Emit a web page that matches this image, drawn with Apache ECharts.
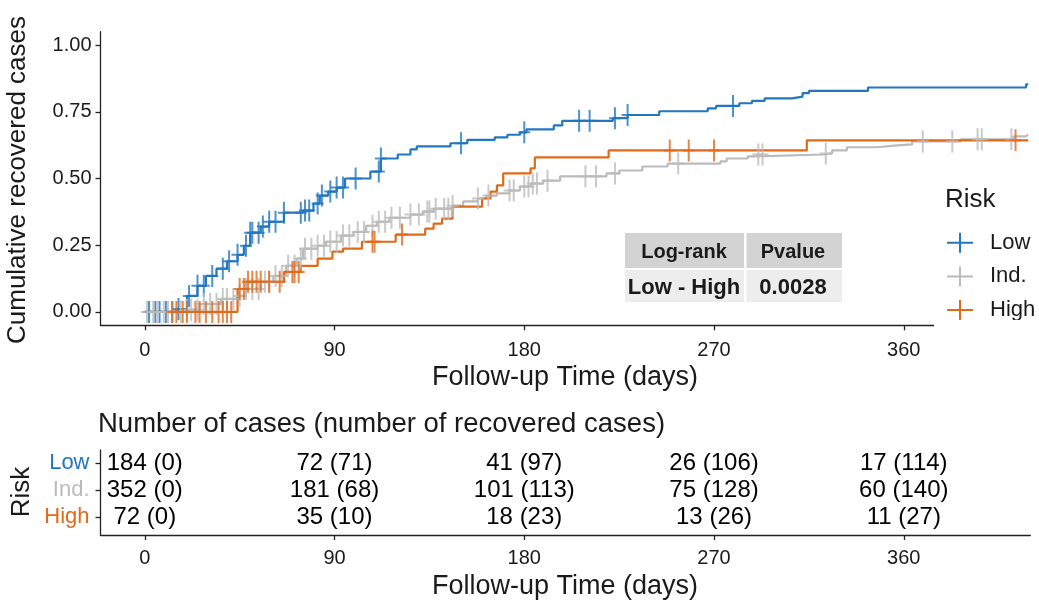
<!DOCTYPE html>
<html><head><meta charset="utf-8">
<script src="https://cdn.jsdelivr.net/npm/echarts@6/dist/echarts.min.js"></script>
<style>html,body{margin:0;padding:0;background:#fff}#c{width:1039px;height:604px}</style>
</head><body><div id="c"></div>
<script>
// ---- data ----
const xTicks = [0, 90, 180, 270, 360];
const yTicks = [0, 0.25, 0.5, 0.75, 1];
const groups = ['Low', 'Ind.', 'High'];

const lowTimes = [0, 15, 20, 25, 29, 34, 39, 44, 47, 50, 55, 59, 66, 75, 80, 83, 87, 91, 95, 107, 112, 120, 126, 129, 145, 153, 166, 172, 178, 181, 194, 198, 222, 229, 244, 267, 271, 282, 288, 294, 307, 312, 315, 343, 418, 419];
const lowValues = [0, 0.011, 0.06, 0.098, 0.135, 0.162, 0.19, 0.214, 0.248, 0.297, 0.32, 0.338, 0.372, 0.38, 0.406, 0.436, 0.451, 0.466, 0.5, 0.526, 0.575, 0.59, 0.609, 0.62, 0.632, 0.645, 0.654, 0.664, 0.673, 0.684, 0.699, 0.716, 0.726, 0.738, 0.752, 0.763, 0.772, 0.782, 0.791, 0.8, 0.807, 0.82, 0.828, 0.841, 0.853, 0.853];
const lowCensor = [2, 5, 7, 10, 13, 16, 21, 25, 28, 32, 37, 40, 44, 48, 50, 51, 54, 56, 59, 62, 66, 74, 76, 78, 82, 84, 88, 91, 94, 100, 111, 112, 150, 180, 206, 211, 223, 229, 279];

const indTimes = [0, 19, 26, 36, 44, 48, 55, 61, 67, 72, 75, 82, 86, 93, 99, 105, 110, 116, 126, 132, 137, 146, 151, 158, 162, 167, 173, 178, 183, 189, 197, 219, 225, 236, 248, 273, 276, 286, 290, 322, 326, 333, 347, 357, 364, 387, 412, 418, 419];
const indValues = [0, 0.008, 0.03, 0.049, 0.06, 0.086, 0.113, 0.135, 0.173, 0.2, 0.237, 0.248, 0.263, 0.286, 0.3, 0.323, 0.338, 0.353, 0.365, 0.376, 0.387, 0.398, 0.414, 0.425, 0.436, 0.444, 0.455, 0.47, 0.481, 0.492, 0.508, 0.519, 0.53, 0.545, 0.556, 0.564, 0.575, 0.583, 0.59, 0.594, 0.605, 0.617, 0.624, 0.628, 0.639, 0.647, 0.658, 0.665, 0.665];
const indCensor = [1, 4, 6, 9, 11, 13, 17, 20, 22, 25, 28, 31, 34, 37, 39, 42, 45, 48, 51, 54, 57, 59, 62, 65, 68, 71, 74, 76, 79, 82, 85, 88, 91, 94, 97, 101, 104, 108, 111, 114, 117, 121, 126, 130, 134, 135, 138, 142, 144, 146, 158, 163, 173, 175, 180, 182, 184, 186, 191, 209, 214, 223, 253, 291, 293, 323, 369, 383, 395, 397, 411];

const highTimes = [0, 44, 48, 66, 74, 82, 89, 94, 103, 119, 133, 137, 141, 146, 160, 164, 167, 170, 183, 185, 220, 314, 419];
const highValues = [0, 0.086, 0.113, 0.15, 0.173, 0.2, 0.226, 0.237, 0.263, 0.29, 0.312, 0.331, 0.35, 0.395, 0.425, 0.451, 0.474, 0.519, 0.538, 0.579, 0.605, 0.643, 0.643];
const highCensor = [13, 15, 18, 20, 24, 26, 29, 32, 35, 37, 39, 41, 45, 47, 49, 51, 53, 55, 59, 64, 70, 71, 73, 108, 109, 122, 249, 258, 270, 413];

const tableTimes = [0, 90, 180, 270, 360];
const lowAtRisk = [184, 72, 41, 26, 17];
const lowRecovered = [0, 71, 97, 106, 114];
const indAtRisk = [352, 181, 101, 75, 60];
const indRecovered = [0, 68, 113, 128, 140];
const highAtRisk = [72, 35, 18, 13, 11];
const highRecovered = [0, 10, 23, 26, 27];

const logRankHeader = ['Log-rank', 'Pvalue'];
const logRankRow = ['Low - High', '0.0028'];

// ---- styling ----
const FONT = "'Liberation Sans', Arial, sans-serif";
const colors = { 'Low': '#2277BF', 'Ind.': '#BBBBBB', 'High': '#E0691A' };
const TXT = '#1a1a1a';
const plusPath = 'path://M5,0H7V22H5Z M0,10H12V12H0Z';
const legendIcon = 'path://M0,9H26V11H0Z M12,0H14V20H12Z';

function stepData(times, values) { return times.map((t, i) => [t, values[i]]); }
function valueAt(times, values, t) {
  let v = values[0];
  for (let i = 0; i < times.length; i++) { if (times[i] <= t) v = values[i]; }
  return v;
}
function censorData(cens, times, values) { return cens.map(t => [t, valueAt(times, values, t)]); }

const curves = [
  { name: 'Low', times: lowTimes, values: lowValues, cens: lowCensor },
  { name: 'Ind.', times: indTimes, values: indValues, cens: indCensor },
  { name: 'High', times: highTimes, values: highValues, cens: highCensor }
];

const series = [];
curves.forEach(c => {
  series.push({
    name: c.name, type: 'line', step: 'end', xAxisIndex: 0, yAxisIndex: 0,
    data: stepData(c.times, c.values), showSymbol: false, symbol: 'none',
    lineStyle: { color: colors[c.name], width: 2.2 }, itemStyle: { color: colors[c.name] },
    emphasis: { disabled: true }, silent: true, z: 2
  });
});
curves.forEach(c => {
  series.push({
    name: c.name + ' censor', type: 'scatter', xAxisIndex: 0, yAxisIndex: 0,
    data: censorData(c.cens, c.times, c.values), symbol: plusPath, symbolSize: [12, 22],
    itemStyle: { color: colors[c.name] }, emphasis: { disabled: true }, silent: true, z: 3
  });
});
const tableRows = [
  { row: 2, atRisk: lowAtRisk, rec: lowRecovered },
  { row: 1, atRisk: indAtRisk, rec: indRecovered },
  { row: 0, atRisk: highAtRisk, rec: highRecovered }
];
series.push({
  name: 'table', type: 'scatter', xAxisIndex: 1, yAxisIndex: 1, symbolSize: 1,
  itemStyle: { color: '#fff', opacity: 1 }, silent: true,
  data: tableRows.flatMap(r => tableTimes.map((t, i) => ({ value: [t, r.row], name: r.atRisk[i] + ' (' + r.rec[i] + ')' }))),
  label: { show: true, position: 'inside', formatter: '{b}', color: '#000', opacity: 1, fontSize: 24, fontFamily: FONT, textBorderWidth: 0 }
});

const axisLine = { show: true, onZero: false, lineStyle: { color: '#222', width: 1.3 } };
const axisTick = (vals) => ({ show: true, length: 5, lineStyle: { color: '#222', width: 1.3 }, customValues: vals });

const rowNames = { 0: 'High', 1: 'Ind.', 2: 'Low' };
const option = {
  animation: false,
  backgroundColor: '#fff',
  textStyle: { fontFamily: FONT },
  grid: [
    { left: 100.5, right: 8.7, top: 31.7, bottom: 278.7 },
    { left: 100.5, right: 8.7, top: 450, bottom: 69 }
  ],
  xAxis: [
    { type: 'value', gridIndex: 0, min: -21, max: 420, splitLine: { show: false }, axisLine, axisTick: axisTick(xTicks),
      axisLabel: { customValues: xTicks, color: TXT, fontSize: 20, fontFamily: FONT, margin: 15 } },
    { type: 'value', gridIndex: 1, min: -21, max: 420, splitLine: { show: false }, axisLine, axisTick: axisTick(tableTimes),
      axisLabel: { customValues: tableTimes, color: TXT, fontSize: 20, fontFamily: FONT, margin: 13 } }
  ],
  yAxis: [
    { type: 'value', gridIndex: 0, min: -0.05, max: 1.05, splitLine: { show: false }, axisLine, axisTick: axisTick(yTicks),
      axisLabel: { customValues: yTicks, color: TXT, fontSize: 20, fontFamily: FONT, margin: 9, formatter: v => v.toFixed(2) } },
    { type: 'value', gridIndex: 1, min: -0.667, max: 2.481, splitLine: { show: false }, axisLine, axisTick: axisTick([0, 1, 2]),
      axisLabel: { customValues: [0, 1, 2], fontSize: 22, fontFamily: FONT, margin: 11,
        formatter: v => { const n = rowNames[Math.round(v)]; const k = n === 'Low' ? 'a' : (n === 'Ind.' ? 'b' : 'c'); return '{' + k + '|' + n + '}'; },
        rich: { a: { color: colors['Low'], fontSize: 22, fontFamily: FONT }, b: { color: colors['Ind.'], fontSize: 22, fontFamily: FONT }, c: { color: colors['High'], fontSize: 22, fontFamily: FONT } } } }
  ],
  legend: {
    orient: 'vertical', left: 947, top: 231.7, padding: 0, itemWidth: 26, itemHeight: 20, itemGap: 11.7,
    data: groups.map(g => ({ name: g, icon: legendIcon })),
    textStyle: { fontSize: 22, color: TXT, fontFamily: FONT, padding: [0, 0, 0, 12] },
    selectedMode: false
  },
  series,
  graphic: [
    { type: 'rect', z: 100, shape: { x: 934, y: 320, width: 105, height: 14 }, style: { fill: '#fff' } },
    { type: 'text', z: 101, x: 18, y: 180, rotation: Math.PI / 2, style: { text: 'Cumulative recovered cases', fill: TXT, font: '26px ' + FONT, textAlign: 'center', textVerticalAlign: 'middle' } },
    { type: 'text', z: 101, x: 565, y: 378, style: { text: 'Follow-up Time (days)', fill: TXT, font: '27px ' + FONT, textAlign: 'center', textVerticalAlign: 'middle' } },
    { type: 'text', z: 101, x: 945, y: 200, style: { text: 'Risk', fill: TXT, font: '26px ' + FONT, textAlign: 'left', textVerticalAlign: 'middle' } },
    { type: 'text', z: 101, x: 98, y: 424, style: { text: 'Number of cases (number of recovered cases)', fill: TXT, font: '27.5px ' + FONT, textAlign: 'left', textVerticalAlign: 'middle' } },
    { type: 'text', z: 101, x: 22, y: 492, rotation: Math.PI / 2, style: { text: 'Risk', fill: TXT, font: '26px ' + FONT, textAlign: 'center', textVerticalAlign: 'middle' } },
    { type: 'text', z: 101, x: 565, y: 587, style: { text: 'Follow-up Time (days)', fill: TXT, font: '27px ' + FONT, textAlign: 'center', textVerticalAlign: 'middle' } },
    // log-rank table
    { type: 'rect', z: 100, shape: { x: 625, y: 233, width: 119, height: 35 }, style: { fill: '#D3D3D3' } },
    { type: 'rect', z: 100, shape: { x: 746.5, y: 233, width: 95.5, height: 35 }, style: { fill: '#D3D3D3' } },
    { type: 'rect', z: 100, shape: { x: 625, y: 270, width: 119, height: 32 }, style: { fill: '#EDEDED' } },
    { type: 'rect', z: 100, shape: { x: 746.5, y: 270, width: 95.5, height: 32 }, style: { fill: '#EDEDED' } },
    { type: 'text', z: 101, x: 684, y: 252, style: { text: logRankHeader[0], fill: TXT, font: 'bold 20px ' + FONT, textAlign: 'center', textVerticalAlign: 'middle' } },
    { type: 'text', z: 101, x: 793, y: 252, style: { text: logRankHeader[1], fill: TXT, font: 'bold 20px ' + FONT, textAlign: 'center', textVerticalAlign: 'middle' } },
    { type: 'text', z: 101, x: 684, y: 288, style: { text: logRankRow[0], fill: TXT, font: 'bold 22px ' + FONT, textAlign: 'center', textVerticalAlign: 'middle' } },
    { type: 'text', z: 101, x: 793, y: 288, style: { text: logRankRow[1], fill: TXT, font: 'bold 22px ' + FONT, textAlign: 'center', textVerticalAlign: 'middle' } }
  ]
};
const chart = echarts.init(document.getElementById('c'), null, { renderer: 'canvas' });
chart.setOption(option);
</script></body></html>
